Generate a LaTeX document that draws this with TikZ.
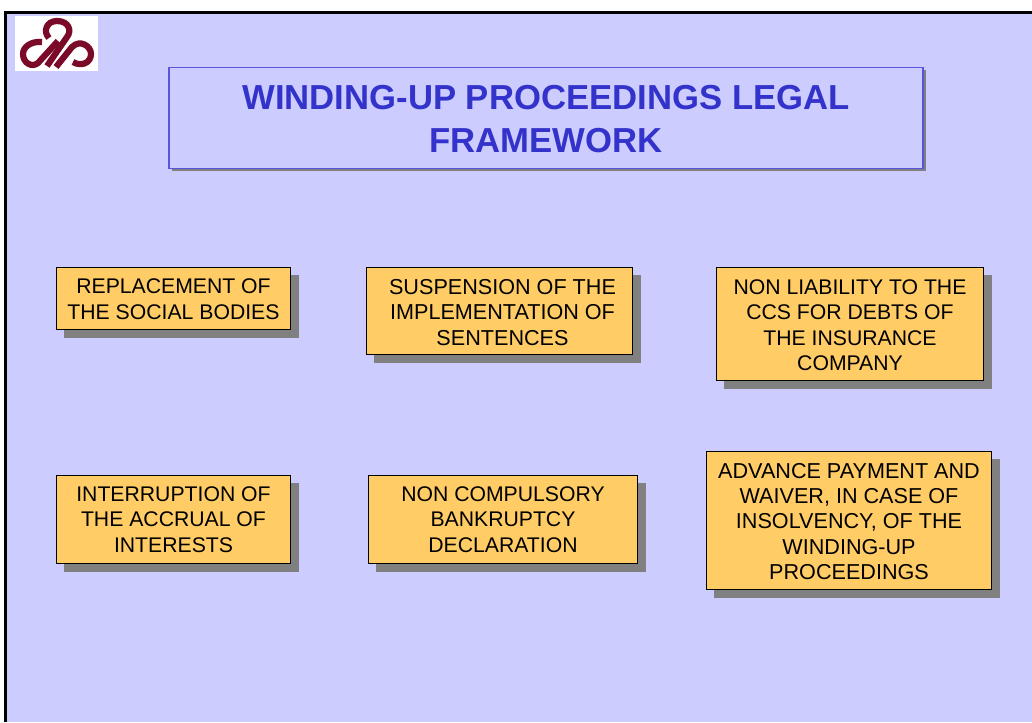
\documentclass[tikz,border=0pt]{standalone}
\usepackage{fontspec}
\setmainfont{Liberation Sans}
\usetikzlibrary{shadows}
\definecolor{slidebg}{HTML}{CCCCFF}
\definecolor{boxfill}{HTML}{FFCC66}
\definecolor{titleblue}{HTML}{3333CC}
\definecolor{titleedge}{HTML}{5555DD}
\definecolor{shadowgrey}{HTML}{808080}
\definecolor{logored}{HTML}{7A0A28}
\tikzset{
  x=1pt,y=-1pt,
  infobox/.style={draw=black,line width=1pt,fill=boxfill,inner sep=0pt,
    general shadow={fill=shadowgrey,shadow xshift=8pt,shadow yshift=-8pt}},
  boxtext/.style={align=center,inner sep=0pt,font=\fontsize{21.2}{25.4}\selectfont,text=black},
  widetext/.style={align=center,inner sep=0pt,font=\fontsize{21.6}{25.4}\selectfont,text=black},
  titlebox/.style={draw=titleedge,line width=1.2pt,fill=slidebg,inner sep=0pt,
    general shadow={fill=shadowgrey,shadow xshift=2.5pt,shadow yshift=-2.5pt}},
  titletext/.style={align=center,inner sep=0pt,font=\fontsize{34.7}{42.5}\bfseries\selectfont,text=titleblue},
  logostroke/.style={draw=logored,line width=6.2pt}
}
\begin{document}
\begin{tikzpicture}
\useasboundingbox (0,0) rectangle (1032,722);
\fill[white] (0,0) rectangle (1032,722);
\fill[slidebg] (5.5,12.5) rectangle (1032,722);
\draw[line width=3pt,black] (5.5,722) -- (5.5,12.5) -- (1032,12.5);
% logo
\fill[white] (15,16) rectangle (98,71);
\draw[logostroke] (49,38) .. controls (43,32) and (46,21) .. (57,21) .. controls (69,21) and (72,31) .. (67,37) -- (47,66);
\draw[logostroke] (42,42) .. controls (31,41) and (23,47) .. (23,54) .. controls (23,63) and (32,68) .. (38,63) -- (58,41);
\draw[logostroke] (56,67) -- (72,47) .. controls (80,39) and (91,46) .. (91,54) .. controls (91,63) and (81,67) .. (73,62);
% title
\node[titlebox,minimum width=754pt,minimum height=101pt] (title) at (546,118.25) {};
\node[titletext,yshift=-1pt] (titlelabel) at (title.center) {WINDING-UP PROCEEDINGS LEGAL\\FRAMEWORK};
% boxes
\node[infobox,minimum width=234.5pt,minimum height=62.5pt] (a) at (173.5,298.5) {};
\node[boxtext,yshift=-0.5pt] (alabel) at (a.center) {REPLACEMENT OF\\THE SOCIAL BODIES};
\node[infobox,minimum width=266.5pt,minimum height=87.5pt] (b) at (499.5,311) {};
\node[widetext,xshift=3pt,yshift=-1.5pt] (blabel) at (b.center) {SUSPENSION OF THE\\IMPLEMENTATION OF\\SENTENCES};
\node[infobox,minimum width=267.5pt,minimum height=113.5pt] (c) at (850,324) {};
\node[boxtext,yshift=-1pt] (clabel) at (c.center) {NON LIABILITY TO THE\\CCS FOR DEBTS OF\\THE INSURANCE\\COMPANY};
\node[infobox,minimum width=234.5pt,minimum height=88.5pt] (d) at (173.5,519.5) {};
\node[boxtext] (dlabel) at (d.center) {INTERRUPTION OF\\THE ACCRUAL OF\\INTERESTS};
\node[infobox,minimum width=269.5pt,minimum height=88.5pt] (e) at (503,519.5) {};
\node[boxtext] (elabel) at (e.center) {NON COMPULSORY\\BANKRUPTCY\\DECLARATION};
\node[infobox,minimum width=285.5pt,minimum height=138.5pt] (f) at (849,520.5) {};
\node[widetext,yshift=-1pt] (flabel) at (f.center) {ADVANCE PAYMENT AND\\WAIVER, IN CASE OF\\INSOLVENCY, OF THE\\WINDING-UP\\PROCEEDINGS};
\end{tikzpicture}
\end{document}
